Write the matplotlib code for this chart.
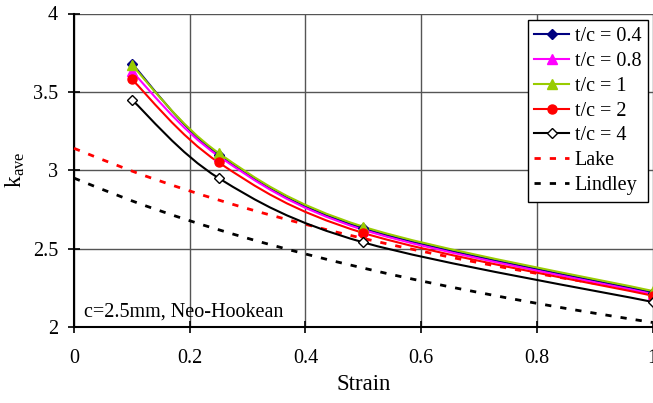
import numpy as np
import matplotlib
matplotlib.use("Agg")
import matplotlib.pyplot as plt
from matplotlib.path import Path
from matplotlib.patches import PathPatch
from matplotlib.lines import Line2D

plt.rcParams['font.family'] = ['Liberation Serif', 'DejaVu Serif']
plt.rcParams['mathtext.fontset'] = 'custom'
plt.rcParams['mathtext.rm'] = 'Liberation Serif'
plt.rcParams['mathtext.it'] = 'Liberation Serif:italic'
plt.rcParams['lines.scale_dashes'] = False

# Finite-element results (k_ave vs strain) for several thickness ratios
strain = [0.1, 0.25, 0.5, 1.0]
k_tc04 = [3.68, 3.10, 2.63, 2.22]
k_tc08 = [3.63, 3.09, 2.62, 2.21]
k_tc1 = [3.67, 3.11, 2.64, 2.23]
k_tc2 = [3.58, 3.05, 2.60, 2.20]
k_tc4 = [3.45, 2.95, 2.54, 2.16]

# Reference predictions
ref_strain = [0.0, 0.1, 0.2, 0.3, 0.4, 0.5, 0.6, 0.7, 0.8, 0.9, 1.0]
k_lake = [3.14, 2.995, 2.868, 2.755, 2.655, 2.565, 2.484, 2.410, 2.342, 2.279, 2.221]
k_lindley = [2.95, 2.805, 2.678, 2.566, 2.466, 2.376, 2.294, 2.220, 2.151, 2.088, 2.029]

xticks = [0, 0.2, 0.4, 0.6, 0.8, 1]
xtick_labels = ["0", "0.2", "0.4", "0.6", "0.8", "1"]
yticks = [2, 2.5, 3, 3.5, 4]
ytick_labels = ["2", "2.5", "3", "3.5", "4"]


def smooth_path(x, y):
    """Cubic Bezier path through the points (Catmull-Rom style smoothing)."""
    p = np.column_stack([x, y]).astype(float)
    n = len(p)
    verts = [p[0]]
    codes = [Path.MOVETO]
    for i in range(n - 1):
        p0 = p[i - 1] if i > 0 else p[i]
        p1 = p[i]
        p2 = p[i + 1]
        p3 = p[i + 2] if i + 2 < n else p[i + 1]
        c1 = p1 + (p2 - p0) / 6.0
        c2 = p2 - (p3 - p1) / 6.0
        verts += [c1, c2, p2]
        codes += [Path.CURVE4] * 3
    return Path(verts, codes)


fig = plt.figure(figsize=(6.53, 4.03), dpi=100)
ax = fig.add_axes([74 / 653, 1 - 327 / 403, 578.5 / 653, 313.5 / 403])
ax.set_xlim(0, 1)
ax.set_ylim(2, 4)

series = [
    ("t/c = 0.4", k_tc04, "#000080", "D", "#000080", 5.5),
    ("t/c = 0.8", k_tc08, "#FF00FF", "^", "#FF00FF", 7),
    ("t/c = 1", k_tc1, "#99CC00", "^", "#99CC00", 7),
    ("t/c = 2", k_tc2, "#FF0000", "o", "#FF0000", 6.5),
    ("t/c = 4", k_tc4, "#000000", "D", "white", 5.5),
]

dash = (0, (4.5, 6.5))
for vals, col in [(k_lake, "#FF0000"), (k_lindley, "#000000")]:
    ax.add_patch(PathPatch(smooth_path(ref_strain, vals), fill=False,
                           edgecolor=col, lw=2.0, linestyle=dash,
                           zorder=3, clip_on=False))

handles = []
for label, vals, col, mk, fc, ms in series:
    ax.add_patch(PathPatch(smooth_path(strain, vals), fill=False,
                           edgecolor=col, lw=1.5, zorder=4, clip_on=False))
    ax.plot(strain, vals, linestyle="none", marker=mk, markersize=ms,
            markerfacecolor=fc, markeredgecolor=col, markeredgewidth=1.0,
            zorder=5, clip_on=False)
    handles.append(Line2D([], [], color=col, lw=1.5, marker=mk, markersize=ms,
                          markerfacecolor=fc, markeredgecolor=col,
                          markeredgewidth=1.0, label=label))
handles.append(Line2D([], [], color="#FF0000", lw=2.0, linestyle=dash, label="Lake"))
handles.append(Line2D([], [], color="#000000", lw=2.0, linestyle=dash, label="Lindley"))

ax.set_xticks(xticks)
ax.set_xticklabels(xtick_labels)
ax.set_yticks(yticks)
ax.set_yticklabels(ytick_labels)
ax.tick_params(direction="inout", length=9, width=1.2, labelsize=14.5,
               colors="black")
ax.tick_params(axis="x", pad=11.5)
ax.tick_params(axis="y", pad=7)
ax.grid(True, color="#555555", lw=1.0, zorder=0)
ax.set_axisbelow(True)
for side in ("top", "right"):
    ax.spines[side].set_visible(False)
for side in ("left", "bottom"):
    ax.spines[side].set_linewidth(1.5)
    ax.spines[side].set_color("black")
    ax.spines[side].set_zorder(2)

ax.set_xlabel("Strain", fontsize=16.5, labelpad=4)
ax.set_ylabel(r"k$_{\mathrm{ave}}$", fontsize=17, labelpad=4)

ax.text(0.017, 2.064, "c=2.5mm, Neo-Hookean", fontsize=14.5, ha="left",
        va="baseline", zorder=6)

leg = ax.legend(handles=handles, loc="upper right",
                bbox_to_anchor=(648 / 653, 1 - 20 / 403),
                bbox_transform=fig.transFigure, borderaxespad=0,
                fontsize=14.5, frameon=True, fancybox=False, shadow=False,
                framealpha=1, edgecolor="black", handlelength=1.7,
                handletextpad=0.3, labelspacing=0.29, borderpad=0.33)
leg.get_frame().set_linewidth(1.0)
leg.set_zorder(10)

fig.savefig("out.png", dpi=100)
